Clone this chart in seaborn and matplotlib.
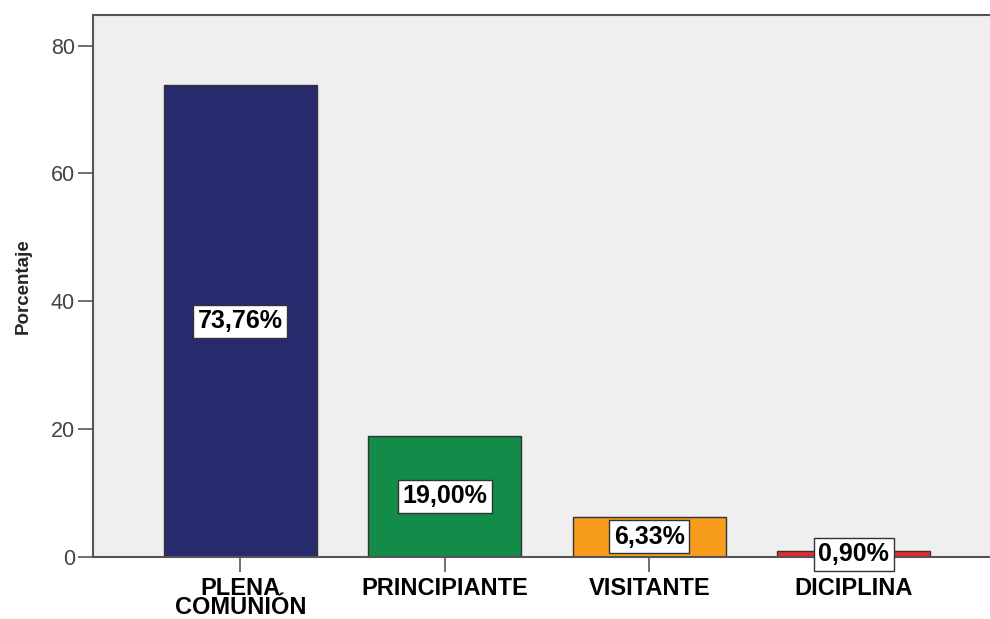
import matplotlib
matplotlib.use("Agg")
import matplotlib.pyplot as plt
import seaborn as sns
import pandas as pd

# data
categorias = ["PLENA\nCOMUNIÓN", "PRINCIPIANTE", "VISITANTE", "DICIPLINA"]
porcentajes = [73.76, 19.00, 6.33, 0.90]
etiquetas = ["73,76%", "19,00%", "6,33%", "0,90%"]
colores = ["#282A6E", "#138B49", "#F89C1E", "#E52A2E"]

df = pd.DataFrame({"Categoria": categorias, "Porcentaje": porcentajes})

sns.set_style("white")
plt.rcParams["font.family"] = ["Liberation Sans", "DejaVu Sans"]

fig = plt.figure(figsize=(9.9, 6.19), dpi=100)
ax = fig.add_axes([0.094, 0.1, 0.91, 0.875])
ax.set_facecolor("#EFEFEF")

sns.barplot(data=df, x="Categoria", y="Porcentaje", hue="Categoria",
            palette=colores, legend=False, width=0.75,
            edgecolor="#333333", linewidth=1.0, saturation=1, ax=ax)

# value boxes in the middle of each bar
for i, (v, txt) in enumerate(zip(porcentajes, etiquetas)):
    ax.text(i, v / 2, txt, ha="center", va="center", fontsize=18,
            fontweight="bold", color="black",
            bbox=dict(boxstyle="square,pad=0.18", facecolor="white",
                      edgecolor="#333333", linewidth=1.0))

ax.set_xlim(-0.72, 3.686)
ax.set_ylim(0, 84.7)
ax.set_yticks([0, 20, 40, 60, 80])
ax.set_xlabel("")
ax.set_ylabel("Porcentaje", fontsize=13.5, fontweight="bold", labelpad=14)

for s in ["left", "bottom", "top", "right"]:
    ax.spines[s].set_color("#555555")
    ax.spines[s].set_linewidth(1.5)

ax.tick_params(axis="y", length=11, width=1.2, color="#555555",
               labelsize=15.5, labelcolor="#444444", left=True, pad=2)
ax.tick_params(axis="x", length=11, width=1.2, color="#555555",
               labelsize=17, labelcolor="black", bottom=True, pad=3)
for lab in ax.get_xticklabels():
    lab.set_fontweight("bold")
    lab.set_linespacing(0.82)

fig.savefig("out.png", dpi=100)
